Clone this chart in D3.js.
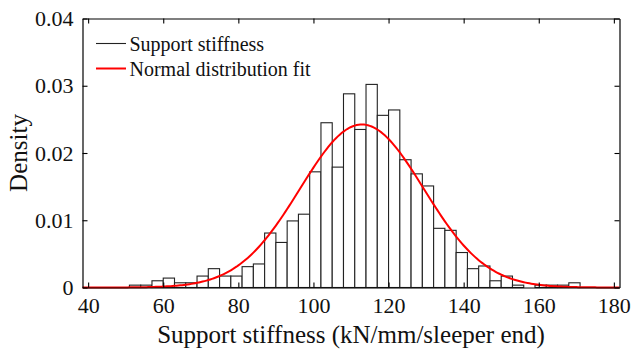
<!DOCTYPE html>
<html>
<head>
<meta charset="utf-8">
<script src="https://cdn.jsdelivr.net/npm/d3@7"></script>
<style>
  html, body { margin: 0; padding: 0; background: #fff; }
  svg { display: block; }
  text { font-family: "Liberation Serif", "Times New Roman", serif; fill: #111; }
</style>
</head>
<body>
<svg id="chart" width="632" height="353"></svg>
<script>
// ---- data ----
const binStarts = [51,54,57,60,63,66,69,72,75,78,81,84,87,90,93,96,99,102,105,108,
                   111,114,117,120,123,126,129,132,135,138,141,144,147,150,153,156,159,162,165,168];
const binWidth = 3;
const densities = [0.00035,0.00035,0.0010,0.0014,0.0007,0.0007,0.0017,0.0028,0.0017,0.0017,
                   0.0031,0.0035,0.0081,0.0067,0.0099,0.0109,0.0172,0.0245,0.0179,0.0288,
                   0.0235,0.0302,0.0256,0.0264,0.0190,0.0169,0.0151,0.0088,0.0085,0.0052,
                   0.0028,0.0032,0.0010,0.0017,0.00035,0,0.00035,0.00035,0.00035,0.0007];
const fitMean = 112.9;
const fitStd = 16.46;
const xTicks = [40,60,80,100,120,140,160,180];
const yTicks = [0,0.01,0.02,0.03,0.04];
const yTickLabels = ["0","0.01","0.02","0.03","0.04"];
const legendLabels = ["Support stiffness","Normal distribution fit"];
const xTitle = "Support stiffness (kN/mm/sleeper end)";
const yTitle = "Density";

// ---- layout ----
const L = 82.5, R = 619.5, T = 18.5, B = 287.5;
const svg = d3.select("#chart");
const x = d3.scaleLinear().domain([38.5, 181.5]).range([L, R]);
const y = d3.scaleLinear().domain([0, 0.04]).range([B, T]);

// bars
svg.append("g").selectAll("rect")
  .data(binStarts.map((s, i) => ({s, v: densities[i]})))
  .join("rect")
  .attr("x", d => x(d.s))
  .attr("width", d => x(d.s + binWidth) - x(d.s))
  .attr("y", d => y(d.v))
  .attr("height", d => y(0) - y(d.v))
  .attr("fill", "#fff")
  .attr("stroke", "#222")
  .attr("stroke-width", 1.1);

// normal fit curve
const xs = d3.range(38.5, 181.5 + 0.001, 0.5);
const pdf = v => Math.exp(-0.5 * ((v - fitMean) / fitStd) ** 2) / (fitStd * Math.sqrt(2 * Math.PI));
svg.append("path")
  .datum(xs)
  .attr("d", d3.line().x(d => x(d)).y(d => y(pdf(d))))
  .attr("fill", "none")
  .attr("stroke", "#ff0000")
  .attr("stroke-width", 2);

// axes (inward ticks, box)
const tl = 5;
const axB = svg.append("g").attr("transform", `translate(0,${B})`)
  .call(d3.axisBottom(x).tickValues(xTicks).tickSizeInner(-tl).tickSizeOuter(0).tickPadding(10));
const axT = svg.append("g").attr("transform", `translate(0,${T})`)
  .call(d3.axisTop(x).tickValues(xTicks).tickSizeInner(-tl).tickSizeOuter(0).tickFormat(""));
const axL = svg.append("g").attr("transform", `translate(${L},0)`)
  .call(d3.axisLeft(y).tickValues(yTicks).tickSizeInner(-tl).tickSizeOuter(0).tickPadding(9)
    .tickFormat((d, i) => yTickLabels[i]));
const axR = svg.append("g").attr("transform", `translate(${R},0)`)
  .call(d3.axisRight(y).tickValues(yTicks).tickSizeInner(-tl).tickSizeOuter(0).tickFormat(""));
[axB, axT, axL, axR].forEach(g => {
  g.selectAll("path.domain").attr("stroke", "#000").attr("stroke-width", 1.2);
  g.selectAll(".tick line").attr("stroke", "#000").attr("stroke-width", 1.1);
  g.selectAll("text").attr("font-family", "Liberation Serif, Times New Roman, serif")
    .attr("font-size", 22).attr("fill", "#111");
});
axB.selectAll("text").attr("dy", "0.71em");

// axis titles
svg.append("text").attr("x", (L + R) / 2).attr("y", 343)
  .attr("text-anchor", "middle").attr("font-size", 25).text(xTitle);
svg.append("text").attr("transform", `translate(27,${(T + B) / 2}) rotate(-90)`)
  .attr("text-anchor", "middle").attr("font-size", 25).text(yTitle);

// legend
const leg = svg.append("g");
const legColors = ["#222", "#ff0000"], legW = [1.1, 2];
legendLabels.forEach((lab, i) => {
  const ly = 43.5 + i * 25;
  leg.append("line").attr("x1", 96).attr("x2", 126).attr("y1", ly).attr("y2", ly)
    .attr("stroke", legColors[i]).attr("stroke-width", legW[i]);
  leg.append("text").attr("x", 129.5).attr("y", ly + 7).attr("font-size", 20).text(lab);
});
</script>
</body>
</html>
